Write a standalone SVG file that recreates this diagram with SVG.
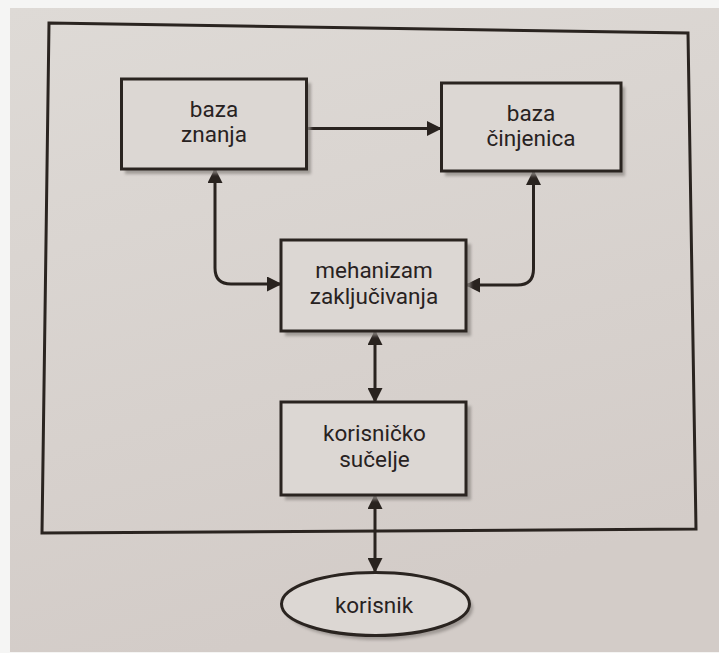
<svg xmlns="http://www.w3.org/2000/svg" width="719" height="653" viewBox="0 0 719 653">
  <defs>
    <linearGradient id="page" x1="0" y1="0" x2="0.3" y2="1">
      <stop offset="0" stop-color="#dedad6"/>
      <stop offset="1" stop-color="#d3ccc8"/>
    </linearGradient>
    <filter id="blur" x="-10%" y="-10%" width="120%" height="120%">
      <feGaussianBlur stdDeviation="1.5"/>
    </filter>
    <marker id="arr" markerUnits="userSpaceOnUse" markerWidth="15" markerHeight="15" refX="14" refY="7.5" orient="auto-start-reverse" viewBox="0 0 15 15">
      <path d="M0,0 L15,7.5 L0,15 z" fill="#29231f"/>
    </marker>
  </defs>
  <style>
    .box { fill: #dcd7d3; stroke: #2a2420; stroke-width: 3; }
    .shadow { fill: #8e8884; opacity: 0.75; filter: url(#blur); }
    .lbl { font-family: Roboto, "Liberation Sans", sans-serif; font-size: 22.5px; fill: #28221f; text-anchor: middle; }
    .edge { fill: none; stroke: #29231f; stroke-width: 3; marker-start: url(#arr); marker-end: url(#arr); }
    .one { marker-start: none; }
  </style>

  <rect x="0" y="0" width="719" height="653" fill="#f5f5f4"/>
  <rect x="10" y="8" width="709" height="644" fill="url(#page)"/>

  <g id="frame">
    <polygon points="49,23 688,33 696,529 42,533" fill="none" stroke="#2a2420" stroke-width="3"/>
  </g>

  <g id="connectors">
    <path class="edge one" d="M306,128.5 H441"/>
    <path class="edge" d="M215,169 V268 Q215,284 231,284 H281"/>
    <path class="edge" d="M533.5,171 V269 Q533.5,285 517.5,285 H466"/>
    <path class="edge" d="M375,331 V402"/>
    <path class="edge" d="M375,495 V572"/>
  </g>

  <g id="baza-znanja">
    <rect class="shadow" x="125" y="83" width="186" height="91"/>
    <rect class="box" x="121.5" y="79" width="185" height="90"/>
    <text class="lbl" x="214" y="117">baza</text>
    <text class="lbl" x="214" y="142">znanja</text>
  </g>

  <g id="baza-cinjenica">
    <rect class="shadow" x="445" y="87" width="180" height="89"/>
    <rect class="box" x="441.5" y="83" width="179.5" height="88"/>
    <text class="lbl" x="531" y="121">baza</text>
    <text class="lbl" x="531" y="146">činjenica</text>
  </g>

  <g id="mehanizam">
    <rect class="shadow" x="285" y="244" width="186" height="92"/>
    <rect class="box" x="281" y="240" width="185" height="91"/>
    <text class="lbl" x="374" y="278">mehanizam</text>
    <text class="lbl" x="374" y="304">zaključivanja</text>
  </g>

  <g id="korisnicko-sucelje">
    <rect class="shadow" x="285" y="406" width="186" height="94"/>
    <rect class="box" x="281" y="402" width="185" height="93"/>
    <text class="lbl" x="374.5" y="441">korisničko</text>
    <text class="lbl" x="374.5" y="467">sučelje</text>
  </g>

  <g id="korisnik">
    <ellipse class="shadow" cx="379" cy="608" rx="94" ry="32"/>
    <ellipse class="box" cx="375.5" cy="604" rx="94" ry="31.5"/>
    <text class="lbl" x="374" y="613">korisnik</text>
  </g>
</svg>
